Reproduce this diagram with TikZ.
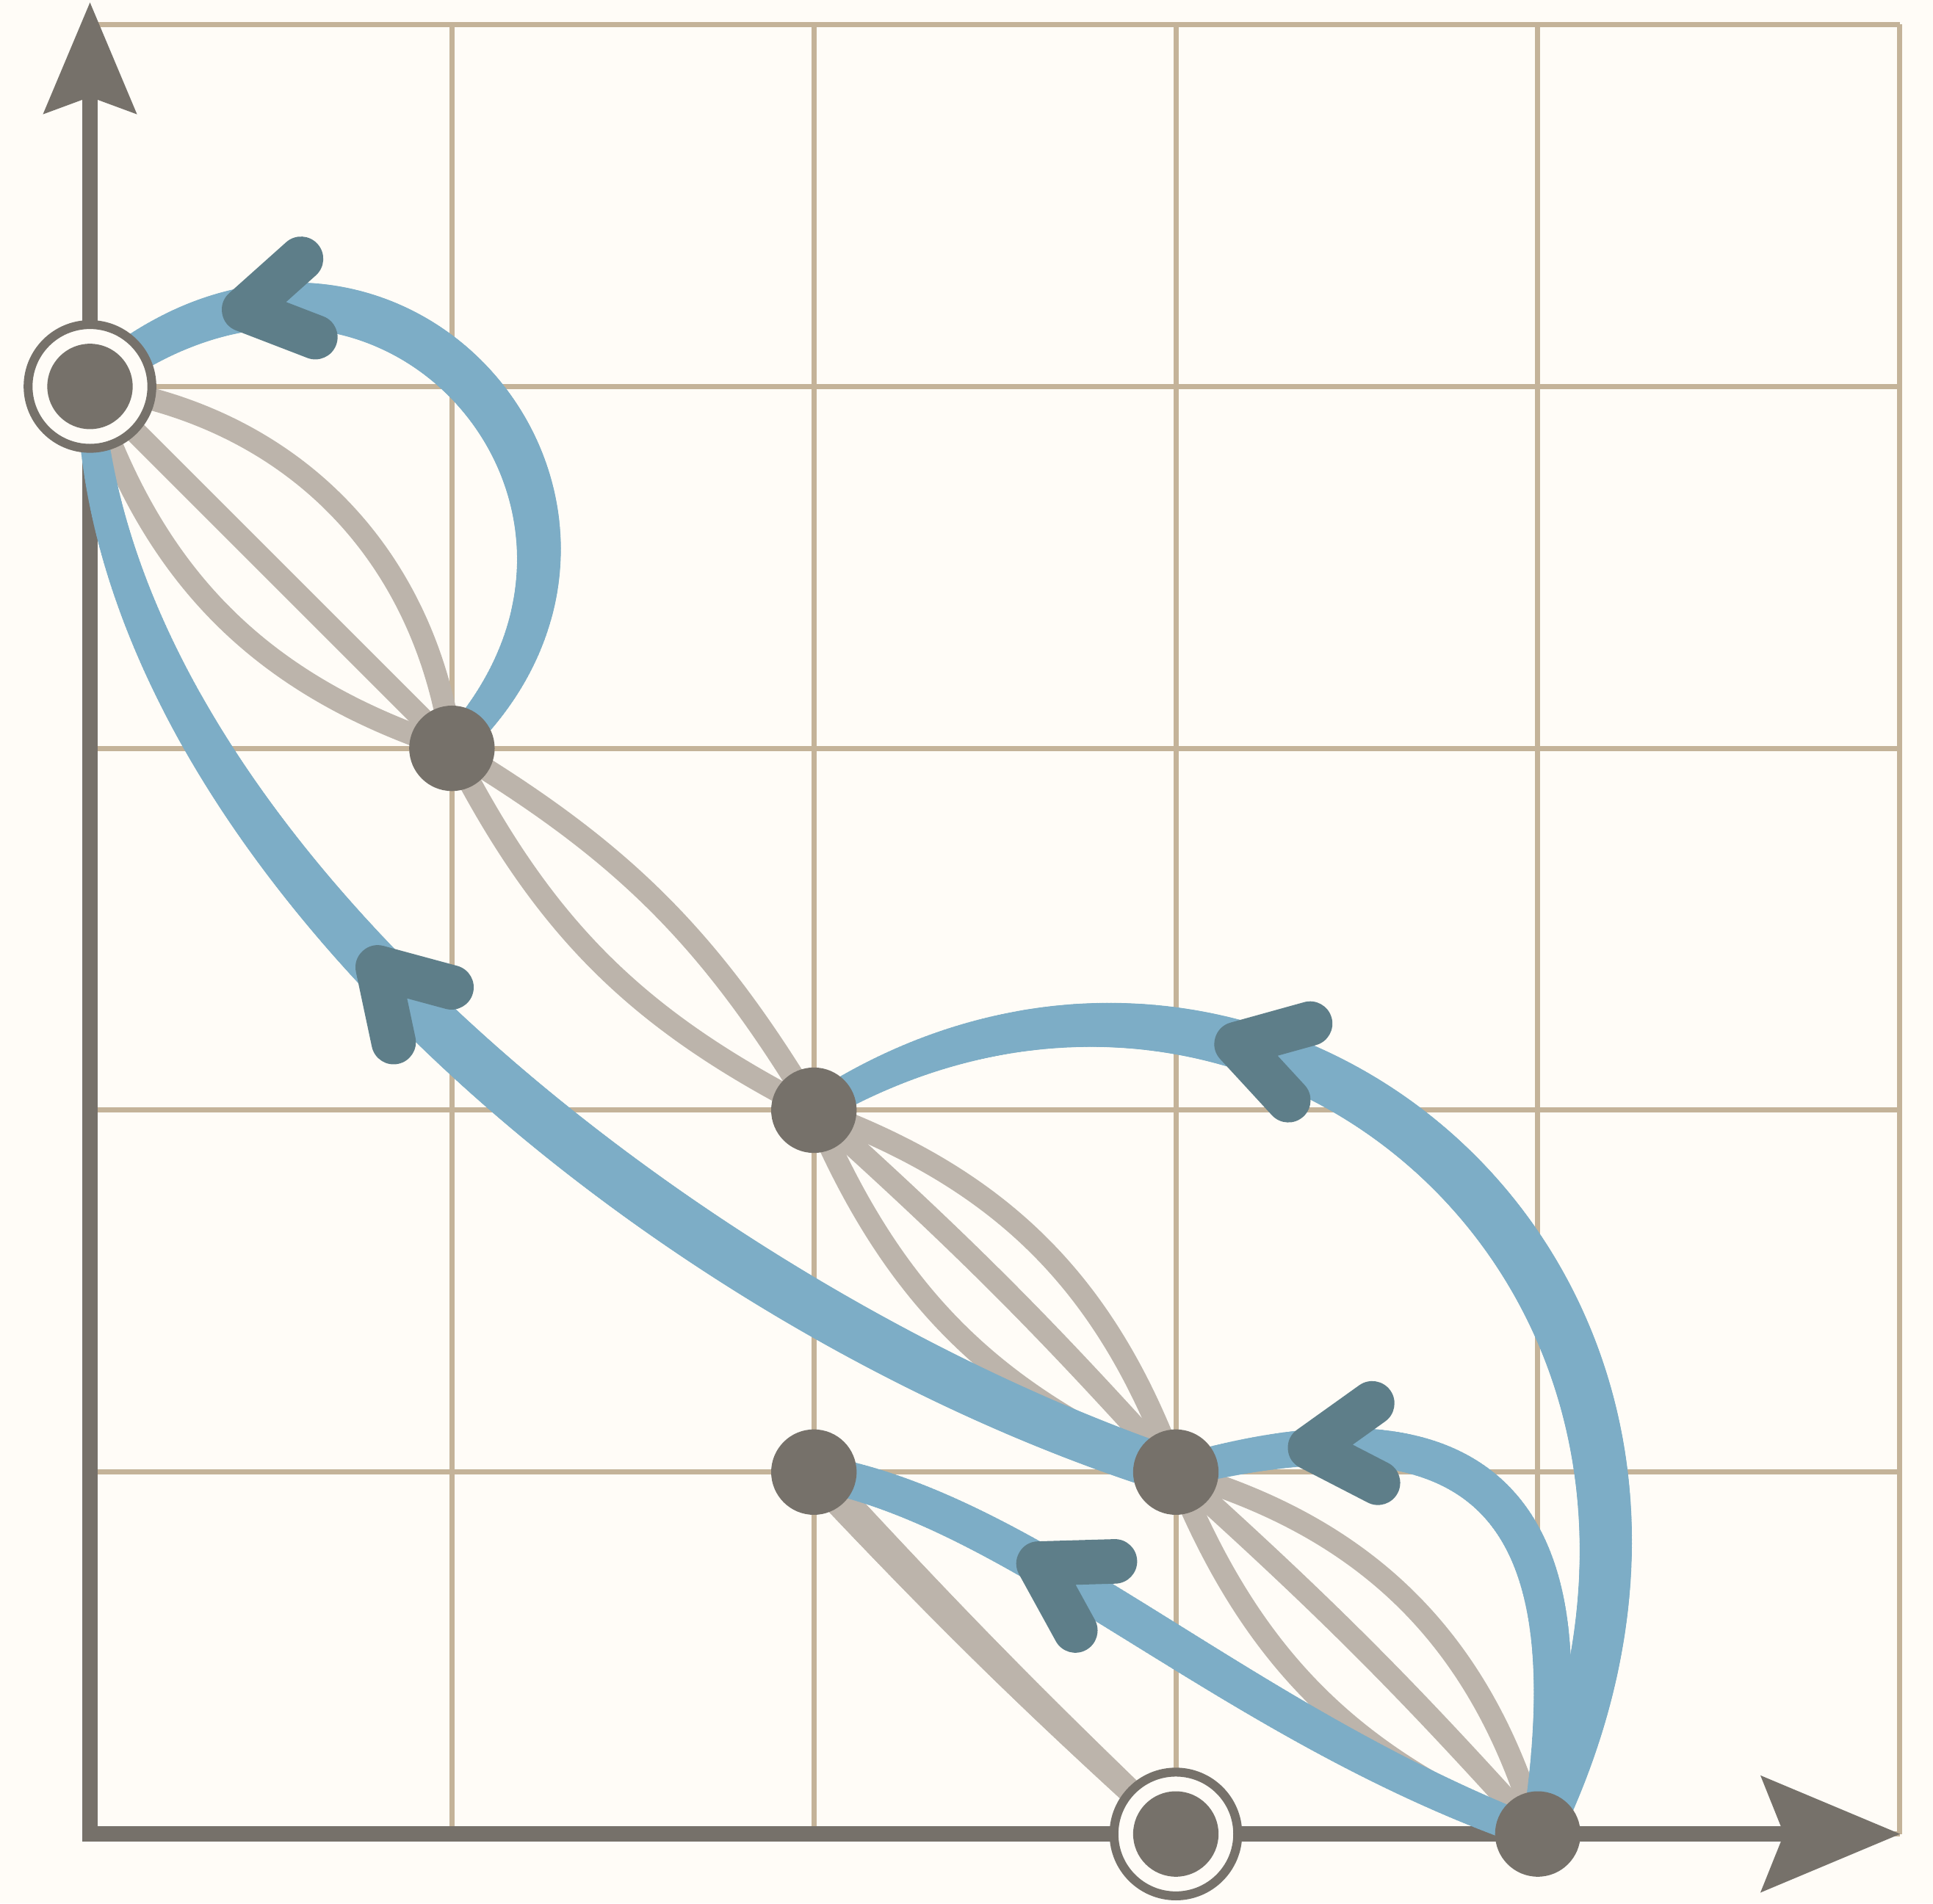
\documentclass[tikz,border=0pt]{standalone}
\usetikzlibrary{calc,decorations.markings}
\definecolor{bgc}{HTML}{FFFCF7}
\definecolor{gridc}{HTML}{C4B399}
\definecolor{nodec}{HTML}{76716A}
\definecolor{beigec}{HTML}{BCB4AB}
\definecolor{bluec}{HTML}{7DADC6}
\definecolor{chevc}{HTML}{5E7E89}
\pgfdeclarelayer{gridlayer}
\pgfdeclarelayer{edgelayer}
\pgfsetlayers{gridlayer,edgelayer,main}
\begin{document}
\begin{tikzpicture}[x=2cm,y=2cm,
  state/.style={circle, fill=nodec, minimum size=0.472cm, inner sep=0pt, outer sep=0pt},
  accept/.style={circle, draw=nodec, line width=1.4pt, fill=bgc, minimum size=0.684cm, inner sep=0pt, outer sep=0pt,
    path picture={\fill[nodec] (path picture bounding box.center) circle[radius=0.236cm];}},
  gridline/.style={gridc, line width=0.81pt},
  axisline/.style={nodec, line width=2.42pt, line join=miter},
  beige/.style={beigec, line width=3.5pt},
  taper/.style n args={4}{postaction={decorate, decoration={markings,
     mark=between positions 0 and 1 step 0.6pt with {%
       \pgfmathsetmacro\tps{\pgfkeysvalueof{/pgf/decoration/mark info/distance from start}/\pgfdecoratedpathlength}%
       \pgfmathsetmacro\tpr{0.5*(#2+(#4-#2)*\tps+(#3-(#2+#4)/2)*4*\tps*(1-\tps))}%
       \fill[#1] (0,0) circle[radius=\tpr pt];}}}},
  chevron/.style={chevc, line width=7pt, line cap=round, line join=round},
  chev/.style={postaction={decorate, decoration={markings,
     mark=at position #1 with {\draw[chevron] (-0.18,0.11) -- (0,0) -- (-0.18,-0.11);}}}}
]
\useasboundingbox (-0.2486,-0.1916) rectangle (5.092,5.068);
\begin{pgfonlayer}{gridlayer}
  \fill[bgc] (-0.2486,-0.1916) rectangle (5.092,5.068);
  \foreach \i in {0,...,5} {
    \draw[gridline] (\i,0) -- (\i,5);
    \draw[gridline] (0,\i) -- (5,\i);
  }
  \draw[axisline] (0,4.85) -- (0,0) -- (4.72,0);
  \fill[nodec] (0,5.061) -- (-0.13,4.752) -- (0,4.80) -- (0.13,4.752) -- cycle;
  \fill[nodec] (5.001,0) -- (4.615,0.162) -- (4.68,0) -- (4.615,-0.162) -- cycle;
\end{pgfonlayer}

% states
\node[accept] (A) at (0,4) {};
\node[state]  (B) at (1,3) {};
\node[state]  (C) at (2,2) {};
\node[state]  (D) at (3,1) {};
\node[state]  (E) at (4,0) {};
\node[state]  (F) at (2,1) {};
\node[accept] (G) at (3,0) {};

\begin{pgfonlayer}{edgelayer}
  % beige connectors
  \draw[beige] (A.center) to[bend left=37] (B.center);
  \draw[beige] (A.center) -- (B.center);
  \draw[beige] (A.center) to[bend right=27] (B.center);
  \draw[beige] (B.center) to[bend left=14] (C.center);
  \draw[beige] (B.center) to[bend right=18] (C.center);
  \draw[beige] (C.center) to[bend left=25] (D.center);
  \draw[beige] (C.center) to[bend left=3] (D.center);
  \draw[beige] (C.center) to[bend right=22] (D.center);
  \draw[beige] (D.center) to[bend left=29] (E.center);
  \draw[beige] (D.center) to[bend left=3] (E.center);
  \draw[beige] (D.center) to[bend right=23] (E.center);
  \path[taper={beigec}{5.2}{4.6}{3.6}] (F.center) to[bend right=2] (G.center);
  % blue connectors (tapered strokes)
  \path[taper={bluec}{4.8}{7.6}{5.4}, chev=0.79] (B.center) .. controls ($(B.center)+(45:0.95)$) and ($(A.center)+(40:1.05)$) .. (A.center);
  \path[taper={bluec}{7.2}{8.2}{4.0}, chev=0.59] (D.center) .. controls ($(D.center)+(162:1.4)$) and ($(A.center)+(-88:1.3)$) .. (A.center);
  \path[taper={bluec}{7.0}{8.4}{4.6}, chev=0.687] (E.center) .. controls ($(E.center)+(65:1.7)$) and ($(C.center)+(32:1.45)$) .. (C.center);
  \path[taper={bluec}{5.2}{6.2}{5.0}, chev=0.80] (E.center) .. controls ($(E.center)+(80:0.9)$) and ($(D.center)+(15:0.9)$) .. (D.center);
  \path[taper={bluec}{5.0}{6.4}{5.6}, chev=0.70] (E.center) .. controls ($(E.center)+(160:0.9)$) and ($(F.center)+(-10:0.6)$) .. (F.center);
\end{pgfonlayer}
\end{tikzpicture}
\end{document}
